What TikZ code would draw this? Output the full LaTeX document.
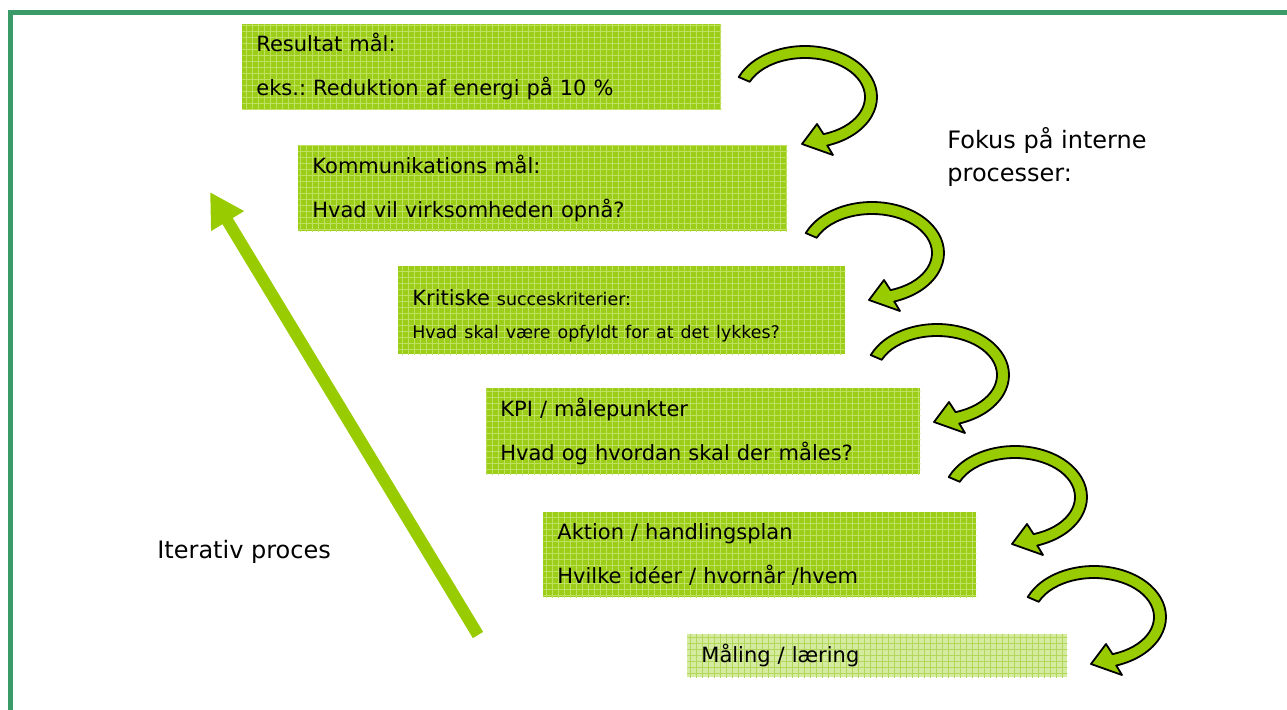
\documentclass[tikz,border=0pt]{standalone}
\usepackage{fontspec}
\setmainfont{DejaVu Sans}
\usetikzlibrary{arrows.meta,patterns}
\frenchspacing

\definecolor{framegreen}{RGB}{58,155,105}
\definecolor{boxgreen}{RGB}{155,205,25}
\definecolor{gridgreen}{RGB}{190,225,95}
\definecolor{palegreen}{RGB}{212,235,160}
\definecolor{palegrid}{RGB}{178,215,90}
\definecolor{arrowgreen}{RGB}{153,204,0}

\begin{document}
\begin{tikzpicture}[x=0.5pt, y=-0.5pt]
\useasboundingbox (0,0) rectangle (1287,709);
\clip (0,0) rectangle (1287,709);

    \tikzstyle{goalbox}=[anchor=north west, inner xsep=7pt, inner ysep=0pt, align=left,
        font=\fontsize{10.5}{22}\selectfont, preaction={fill=boxgreen}, pattern=grid, pattern color=gridgreen];
    \tikzstyle{turnarrow}=[fill=arrowgreen, draw=black, line width=0.9pt, line join=round];
    \tikzstyle{sidelabel}=[inner sep=0pt, align=left, font=\fontsize{12}{16.5}\selectfont];

% frame
\draw[framegreen, line width=2.5pt] (10.5,12.5) rectangle (1320,740);

% goal boxes
\node[goalbox, text width=225.5pt, minimum height=42.5pt] (resultat) at (242,24)
      {Resultat mål:\\eks.: Reduktion af energi på 10 \%};
\node[goalbox, text width=230.5pt, minimum height=43pt] (kommunikation) at (298,145)
      {Kommunikations mål:\\Hvad vil virksomheden opnå?};
\node[goalbox, text width=209.5pt, minimum height=44pt, font=\fontsize{10.5}{16.5}\selectfont] (kritiske) at (398,266)
      {\rule{0pt}{13pt}Kritiske {\fontsize{8.7}{16.5}\selectfont succeskriterier:}\\{\fontsize{8.7}{16.5}\selectfont Hvad skal være opfyldt for at det lykkes?}};
\node[goalbox, text width=203pt, minimum height=43pt] (kpi) at (486,388)
      {KPI / målepunkter\\Hvad og hvordan skal der måles?};
\node[goalbox, text width=202.5pt, minimum height=42.5pt] (aktion) at (543,512)
      {Aktion / handlingsplan\\Hvilke idéer / hvornår /hvem};
\node[goalbox, text width=176pt, minimum height=21.5pt, preaction={fill=palegreen}, pattern color=palegrid] (maaling) at (687,634)
      {Måling / læring};

% turning arrows
\foreach \cx/\cy [count=\i] in {805/97, 872/253, 937/375, 1015/497, 1094/617} {
  \coordinate (turn\i) at (\cx,\cy);
  \filldraw[turnarrow] (turn\i) ++(-157:72 and 51)
      arc[start angle=-157, end angle=72, x radius=72, y radius=51]
      -- ([shift={(28,58)}]turn\i) -- ([shift={(-3,47)}]turn\i) -- ([shift={(12,27)}]turn\i)
      -- ([shift={(72:60 and 39)}]turn\i)
      arc[start angle=72, end angle=-157, x radius=60, y radius=39] -- cycle;
}

% iteration
\coordinate (iterfoot) at (478,635);
\coordinate (itertip) at (210,192);
\draw[arrowgreen, line width=6pt, -{Triangle[length=17pt, width=18pt]}] (iterfoot) -- (itertip);

\node[sidelabel, anchor=base west] (iterlabel) at (157,558) {Iterativ proces};
\node[sidelabel, anchor=north west] (fokuslabel) at (947,127) {Fokus på interne\\processer:};
\end{tikzpicture}
\end{document}
